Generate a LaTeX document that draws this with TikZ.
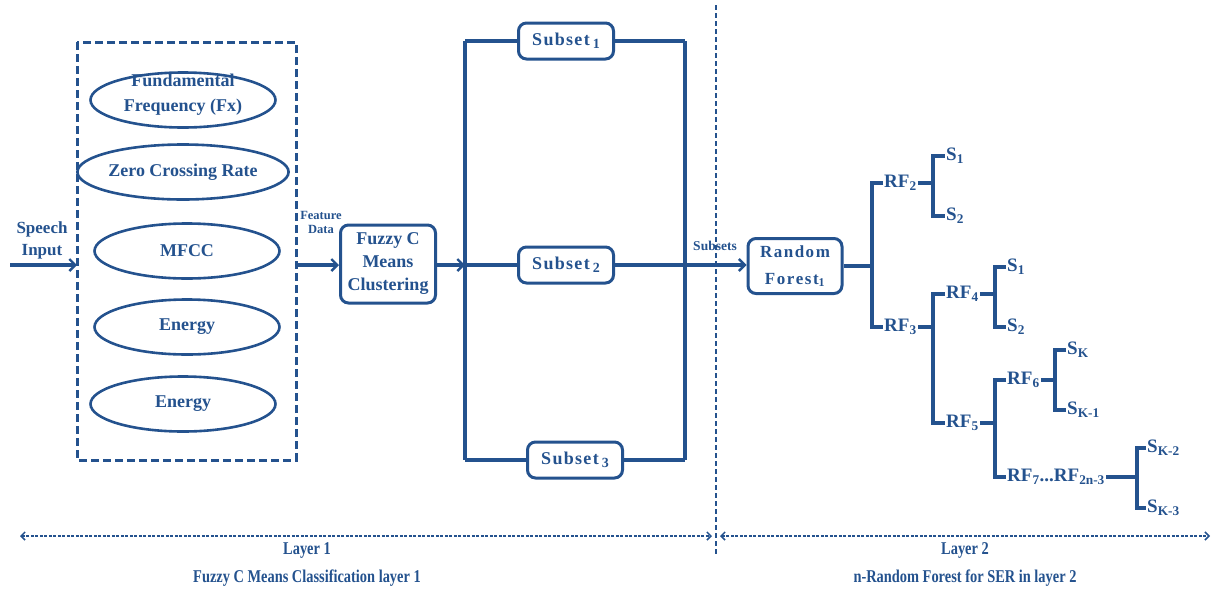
\documentclass[tikz,border=0pt]{standalone}
\usepackage{fontspec}
\setmainfont{Liberation Serif}
\newfontfamily\condfont[FakeStretch=0.8]{Liberation Serif}
\usetikzlibrary{shapes.geometric,arrows.meta}
\definecolor{dblue}{RGB}{36,82,142}
\tikzset{
  every node/.style={text=dblue,font=\bfseries},
  line/.style={draw=dblue,line width=3.2pt},
  arr/.style={line,-{Straight Barb[length=6pt,width=12pt,line width=2.4pt]}},
  feat/.style={ellipse,draw=dblue,line width=2.6pt,minimum width=185pt,minimum height=55pt,inner sep=0pt,align=center,font=\bfseries\fontsize{18}{25}\selectfont},
  rbox/.style={rectangle,rounded corners=8pt,draw=dblue,line width=3pt,align=center,inner sep=2pt},
  leaf/.style={anchor=west,inner sep=1pt,font=\bfseries\fontsize{19}{21}\selectfont},
  lbl/.style={align=center,inner sep=0pt},
  bottom/.style={font=\condfont\bfseries\fontsize{18}{20}\selectfont,inner sep=0pt}
}
\begin{document}
\begin{tikzpicture}[x=1pt,y=-1pt]
\useasboundingbox (0,0) rectangle (1215,595);
% left dashed box
\draw[draw=dblue,line width=3pt,dash pattern=on 8pt off 4pt] (77,42) rectangle (296,460);
\coordinate (boxL) at (77,265);
\coordinate (boxR) at (296,265);
\node[feat] (f1) at (183,100) {};
\node[lbl,font=\bfseries\fontsize{18}{25}\selectfont] (f1t) at (183,95) {Fundamental\\Frequency (Fx)};
\node[feat] (f2) at (183,172) {Zero Crossing Rate};
\node[feat] (f3) at (187,251) {MFCC};
\node[feat] (f4) at (187,327) {Energy};
\node[feat] (f5) at (183,404) {Energy};
% speech input
\coordinate (sin) at (10,265);
\draw[arr] (sin) -- (boxL);
\node[lbl,font=\bfseries\fontsize{17}{22}\selectfont] (speech) at (42,240) {Speech\\Input};
% fuzzy
\node[rbox,minimum width=95pt,minimum height=78pt,font=\bfseries\fontsize{18}{23}\selectfont] (fcm) at (388,264) {Fuzzy C\\Means\\Clustering};
\draw[arr] (boxR) -- (fcm.west |- boxR);
\node[lbl,font=\bfseries\fontsize{12.5}{14}\selectfont] (fdata) at (321,222) {Feature\\Data};
% subsets
\coordinate (sl1) at (465,41);
\coordinate (sl2) at (465,265);
\coordinate (sl3) at (465,460);
\coordinate (sr1) at (685,41);
\coordinate (sr2) at (685,265);
\coordinate (sr3) at (685,460);
\draw[arr] (fcm.east |- sl2) -- (sl2);
\tikzset{sub/.style={rbox,minimum width=95pt,minimum height=36pt,font=\bfseries\fontsize{18}{20}\selectfont}}
\node[sub] (s1) at (566,41) {S\kern1.3ptu\kern1.3ptb\kern1.3pts\kern1.3pte\kern1.3ptt\,\raisebox{-3pt}{\fontsize{14}{14}\selectfont 1}};
\node[sub] (s2) at (566,265) {S\kern1.3ptu\kern1.3ptb\kern1.3pts\kern1.3pte\kern1.3ptt\,\raisebox{-3pt}{\fontsize{14}{14}\selectfont 2}};
\node[sub] (s3) at (575,460) {S\kern1.3ptu\kern1.3ptb\kern1.3pts\kern1.3pte\kern1.3ptt\,\raisebox{-3pt}{\fontsize{14}{14}\selectfont 3}};
\draw[line] (sl1) -- (sl3);
\draw[line] (sr1) -- (sr3);
\draw[line] (sl1) -- (s1.west) (s1.east) -- (sr1);
\draw[line] (sl2) -- (s2.west) (s2.east) -- (sr2);
\draw[line] (sl3) -- (s3.west) (s3.east) -- (sr3);
% random forest
\node[rbox,minimum width=94pt,minimum height=55pt,font=\bfseries\fontsize{17}{27}\selectfont] (rf1) at (795,266) {R\kern1.5pta\kern1.5ptn\kern1.5ptd\kern1.5pto\kern1.5ptm\\F\kern1.5pto\kern1.5ptr\kern1.5pte\kern1.5pts\kern1.5ptt\textsubscript{1}};
\draw[arr] (sr2) -- (rf1.west |- sr2);
\node[lbl,font=\bfseries\fontsize{13.5}{15}\selectfont] (subsets) at (715,246) {Subsets};
% divider
\coordinate (dtop) at (716,5);
\coordinate (dbot) at (716,555);
\draw[draw=dblue,line width=1.3pt,dash pattern=on 5pt off 3pt] (dtop) -- (dbot);
% tree
\coordinate (j1) at (872,266);
\node[leaf] (rf2) at (883,183) {RF\textsubscript{2}};
\node[leaf] (rf3) at (883,327) {RF\textsubscript{3}};
\draw[line] (rf1.east) -- (j1);
\draw[line] (rf2.west) -| (j1) |- (rf3.west);
% RF2 leaves
\coordinate (j2) at (933,183);
\node[leaf] (a1) at (945,156) {S\textsubscript{1}};
\node[leaf] (a2) at (945,216) {S\textsubscript{2}};
\draw[line] (rf2.east) -- (j2);
\draw[line] (a1.west) -| (j2) |- (a2.west);
% RF3 children
\coordinate (j3) at (933,327);
\node[leaf] (rf4) at (945,294) {RF\textsubscript{4}};
\node[leaf] (rf5) at (945,423) {RF\textsubscript{5}};
\draw[line] (rf3.east) -- (j3);
\draw[line] (rf4.west) -| (j3) |- (rf5.west);
% RF4 leaves
\coordinate (j4) at (995,294);
\node[leaf] (b1) at (1006,267) {S\textsubscript{1}};
\node[leaf] (b2) at (1006,327) {S\textsubscript{2}};
\draw[line] (rf4.east) -- (j4);
\draw[line] (b1.west) -| (j4) |- (b2.west);
% RF5 children
\coordinate (j5) at (995,423);
\node[leaf] (rf6) at (1006,380) {RF\textsubscript{6}};
\node[leaf] (rf7) at (1006,477) {RF\textsubscript{7}...RF\textsubscript{2n-3}};
\draw[line] (rf5.east) -- (j5);
\draw[line] (rf6.west) -| (j5) |- (rf7.west);
% RF6 leaves
\coordinate (j6) at (1055,380);
\node[leaf] (c1) at (1066,350) {S\textsubscript{K}};
\node[leaf] (c2) at (1066,410) {S\textsubscript{K-1}};
\draw[line] (rf6.east) -- (j6);
\draw[line] (c1.west) -| (j6) |- (c2.west);
% RF7 leaves
\coordinate (j7) at (1137,477);
\node[leaf] (d1) at (1146,448) {S\textsubscript{K-2}};
\node[leaf] (d2) at (1146,508) {S\textsubscript{K-3}};
\draw[line] (rf7.east) -- (j7);
\draw[line] (d1.west) -| (j7) |- (d2.west);
% bottom layer arrows
\tikzset{layer/.style={draw=dblue,line width=1.5pt,dash pattern=on 3pt off 1.5pt,{Straight Barb[length=4pt,width=8pt]}-{Straight Barb[length=4pt,width=8pt]}}}
\coordinate (l1a) at (20,536);
\coordinate (l1b) at (712,536);
\coordinate (l2a) at (720,536);
\coordinate (l2b) at (1210,536);
\draw[layer] (l1a) -- (l1b);
\draw[layer] (l2a) -- (l2b);
\node[bottom] (lay1) at (307,550) {Layer 1};
\node[bottom] (cap1) at (307,578) {Fuzzy C Means Classification layer 1};
\node[bottom] (lay2) at (965,550) {Layer 2};
\node[bottom] (cap2) at (965,578) {n-Random Forest for SER in layer 2};
\end{tikzpicture}
\end{document}
